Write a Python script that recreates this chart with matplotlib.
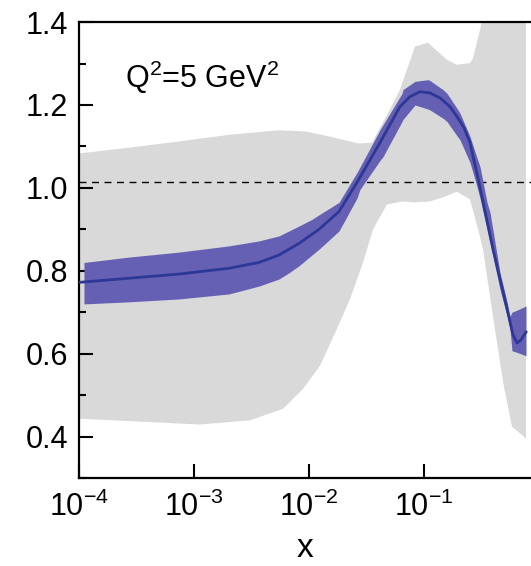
import numpy as np
import matplotlib
matplotlib.use("Agg")
import matplotlib.pyplot as plt
from matplotlib.ticker import LogLocator, MultipleLocator, NullLocator

plt.rcParams['font.family'] = 'Liberation Sans'
plt.rcParams['mathtext.fontset'] = 'custom'
plt.rcParams['mathtext.rm'] = 'Liberation Sans'
plt.rcParams['mathtext.it'] = 'Liberation Sans'
plt.rcParams['mathtext.default'] = 'regular'

# nuclear modification ratio, central fit (log10 x)
logx_fit = [-4.0, -3.565, -3.130, -2.696, -2.435, -2.261, -2.087, -1.913, -1.739,
            -1.583, -1.383, -1.209, -1.122, -1.035, -0.948, -0.861, -0.774,
            -0.713, -0.652, -0.600, -0.522, -0.400, -0.278, -0.226, -0.191,
            -0.157, -0.113]
ratio_fit = [0.772, 0.782, 0.792, 0.806, 0.820, 0.838, 0.866, 0.900, 0.943,
             1.013, 1.109, 1.196, 1.220, 1.232, 1.229, 1.217, 1.196,
             1.172, 1.145, 1.109, 1.013, 0.852, 0.708, 0.645, 0.626,
             0.633, 0.652]

# error band of the fit
logx_band = [-3.957, -3.565, -3.130, -2.696, -2.435, -2.261, -2.174, -2.087, -1.974,
             -1.913, -1.739, -1.583, -1.557, -1.383, -1.357, -1.191, -1.183,
             -1.078, -0.965, -0.948, -0.835, -0.800, -0.704, -0.687, -0.600,
             -0.539, -0.513, -0.452, -0.426, -0.339, -0.278, -0.252, -0.235,
             -0.191, -0.113]
band_hi = [0.820, 0.833, 0.845, 0.860, 0.872, 0.884, 0.896, 0.908, 0.924,
           0.935, 0.965, 1.037, 1.050, 1.140, 1.152, 1.228, 1.237,
           1.257, 1.261, 1.259, 1.237, 1.228, 1.188, 1.180, 1.124,
           1.072, 1.051, 0.965, 0.941, 0.795, 0.725, 0.690, 0.700,
           0.705, 0.715]
band_lo = [0.720, 0.725, 0.732, 0.744, 0.763, 0.780, 0.795, 0.812, 0.838,
           0.852, 0.896, 0.975, 0.996, 1.066, 1.075, 1.160, 1.165,
           1.200, 1.190, 1.188, 1.168, 1.160, 1.122, 1.116, 1.061,
           1.003, 0.975, 0.900, 0.868, 0.755, 0.692, 0.660, 0.607,
           0.603, 0.595]

# wider uncertainty from the previous analysis (grey)
logx_grey = [-4.0, -3.565, -3.130, -2.696, -2.261, -2.026, -1.826, -1.565, -1.452,
             -1.313, -1.209, -1.078, -0.965, -0.800, -0.713, -0.600, -0.574,
             -0.513, -0.461, -0.40, -0.113]
grey_hi = [1.083, 1.097, 1.112, 1.128, 1.139, 1.136, 1.124, 1.107, 1.109,
           1.181, 1.237, 1.341, 1.350, 1.309, 1.297, 1.301, 1.313,
           1.381, 1.45, 1.6, 1.6]

logx_grey_lo = [-4.0, -3.470, -2.948, -2.513, -2.226, -2.052, -1.904, -1.757, -1.643,
                -1.530, -1.443, -1.322, -1.191, -1.078, -0.948, -0.817, -0.713,
                -0.600, -0.530, -0.487, -0.400, -0.313, -0.235, -0.113]
grey_lo = [0.443, 0.436, 0.429, 0.439, 0.467, 0.515, 0.571, 0.660, 0.732,
           0.820, 0.900, 0.960, 0.967, 0.965, 0.967, 0.979, 0.991,
           0.972, 0.900, 0.852, 0.690, 0.532, 0.424, 0.395]

xf = 10.0 ** np.array(logx_fit)
xb = 10.0 ** np.array(logx_band)

# grey polygon: upper edge left to right, lower edge back
gx = np.concatenate([10.0 ** np.array(logx_grey), 10.0 ** np.array(logx_grey_lo)[::-1]])
gy = np.concatenate([grey_hi, grey_lo[::-1]])

fig = plt.figure(figsize=(5.31, 5.66), dpi=100)
ax = fig.add_axes([0.1488, 0.1555, 0.8512, 0.8055])

ax.fill(gx, gy, color='#d9d9d9', lw=0, zorder=1)
ax.axhline(1.013, color='black', lw=1.0, ls=(0, (5, 4)), zorder=2)
ax.fill_between(xb, band_lo, band_hi, color='#6560b3', lw=0, zorder=3)
ax.plot(xf, ratio_fit, color='#2d3796', lw=2.0, zorder=4)

ax.set_xscale('log')
ax.set_xlim(1e-4, 0.852)
ax.set_ylim(0.3, 1.4)
ax.xaxis.set_major_locator(LogLocator(base=10, numticks=10))
ax.xaxis.set_minor_locator(NullLocator())
ax.yaxis.set_major_locator(MultipleLocator(0.2))
ax.yaxis.set_minor_locator(MultipleLocator(0.1))
ax.set_yticks([0.4, 0.6, 0.8, 1.0, 1.2, 1.4])

ax.tick_params(which='major', direction='in', length=10, width=1.5, labelsize=22)
ax.tick_params(axis='y', which='minor', direction='in', length=5, width=1.5)
ax.tick_params(axis='y', pad=8)
ax.tick_params(axis='x', pad=10)

for side in ['left', 'bottom', 'top']:
    ax.spines[side].set_linewidth(1.6)
ax.spines['right'].set_visible(False)

ax.set_xlabel('x', fontsize=24, labelpad=7)
ax.text(2.5e-4, 1.241, r'Q$^2$=5 GeV$^2$', fontsize=22, ha='left', va='baseline')

fig.savefig('out.png', dpi=100)
